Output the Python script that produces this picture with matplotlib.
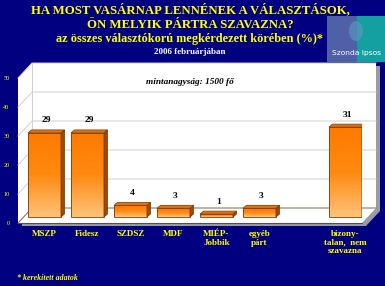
import numpy as np
import matplotlib
matplotlib.use('Agg')
import matplotlib.pyplot as plt
from matplotlib.patches import Polygon, Rectangle, Ellipse
from matplotlib.colors import LinearSegmentedColormap

# data
parties = ['MSZP', 'Fidesz', 'SZDSZ', 'MDF', 'MIÉP-\nJobbik', 'egyéb\npárt',
           'bizony-\ntalan,  nem\nszavazna']
values = [29, 29, 4, 3, 1, 3, 31]
y_ticks = [0, 10, 20, 30, 40, 50]

title1 = 'HA MOST VASÁRNAP LENNÉNEK A VÁLASZTÁSOK,'
title2 = 'ÖN MELYIK PÁRTRA SZAVAZNA?'
subtitle = 'az összes választókorú megkérdezett körében (%)*'
date_txt = '2006 februárjában'
sample_txt = 'mintanagyság: 1500 fő'
foot_txt = '* kerekített adatok'

navy = '#000080'
yellow = '#ffff00'
serif = ['Liberation Serif', 'DejaVu Serif']

W, H = 385, 286
fig = plt.figure(figsize=(W / 100, H / 100), dpi=100, facecolor=navy)

# front plane of the 3d box: x 18..362 px, y 223..78 px
ax = fig.add_axes([18 / W, (H - 223) / H, 344 / W, 145 / H])
ax.set_facecolor('none')
for s in ax.spines.values():
    s.set_visible(False)
x0, x1 = -0.616, 7.384
ax.set_xlim(x0, x1)
ax.set_ylim(0, 50)

# unit sizes in pixels
px_x = 344 / (x1 - x0)
px_y = 145 / 50.0
dxw, dyw = 14 / px_x, 15 / px_y      # depth of the box
bdx, bdy = 3.5 / px_x, 3 / px_y      # depth of a bar
base = 6 / px_y                      # bars stand inside the floor
bw = 33 / px_x

# shadow + white box
box = [(x0, 0), (x1, 0), (x1 + dxw, dyw), (x1 + dxw, 50 + dyw),
       (x0 + dxw, 50 + dyw), (x0, 50)]
shadow = [(x + 4 / px_x, y - 3 / px_y) for x, y in box]
ax.add_patch(Polygon(shadow, closed=True, fc='#9a9aa8', ec='none', clip_on=False, zorder=0))
ax.add_patch(Polygon(box, closed=True, fc='white', ec='none', clip_on=False, zorder=0.5))
ax.plot([x0, x1], [0, 0], color='#505050', lw=0.8, clip_on=False, zorder=0.6)

# grid on back and left wall
for t in y_ticks:
    c = '#7a6a40' if t == 0 else '#cfcfcf'
    ax.plot([x0, x0 + dxw, x1 + dxw], [t, t + dyw, t + dyw], color=c, lw=0.7,
            clip_on=False, zorder=0.7)
ax.plot([x0 + dxw, x0 + dxw], [dyw, 50 + dyw], color='#cfcfcf', lw=0.7, clip_on=False, zorder=0.7)

# bars
pos = np.array(list(range(len(values) - 1)) + [len(values)])
grad = np.linspace(0, 1, 100).reshape(-1, 1)
cmap = LinearSegmentedColormap.from_list('o', ['#ffc27a', '#ff8a10', '#ff7a00'])
bars = ax.bar(pos, values, width=bw, bottom=base, color='none', edgecolor='#7a3c00',
              lw=0.6, zorder=3)
for p, v, b in zip(pos, values, bars):
    l, r = p - bw / 2, p + bw / 2
    t = base + v
    im = ax.imshow(grad, cmap=cmap, extent=[l, r, base, t], aspect='auto',
                   origin='lower', zorder=2)
    im.set_clip_path(b)
    side = [(r, base), (r + bdx, base + bdy), (r + bdx, t + bdy), (r, t)]
    top = [(l, t), (l + bdx, t + bdy), (r + bdx, t + bdy), (r, t)]
    ax.add_patch(Polygon(side, closed=True, fc='#a04a00', ec='#6a3000', lw=0.5, zorder=3))
    ax.add_patch(Polygon(top, closed=True, fc='#e07010', ec='#7a3c00', lw=0.5, zorder=3))
    ax.annotate(str(v), (p + bdx / 2, t + bdy), xytext=(0, 4), textcoords='offset points',
                ha='center', va='bottom', fontsize=6.8, fontweight='bold',
                family=serif, color='black', zorder=4)

ax.set_yticks(y_ticks)
ax.set_yticklabels([str(t) for t in y_ticks], color=yellow, fontsize=4.5, family=serif)
ax.set_xticks(pos)
ax.set_xticklabels(parties, color=yellow, fontsize=6.5, fontweight='bold', family=serif,
                   linespacing=1.1)
ax.tick_params(length=0)
ax.tick_params(axis='y', pad=6)
ax.tick_params(axis='x', pad=5)

ax.text(0.5, 0.97, sample_txt, transform=ax.transAxes, ha='center', va='center',
        fontsize=6.7, fontstyle='italic', fontweight='bold', family=serif, color='black')

# titles
fig.text(190 / W, 1 - 10 / H, title1, ha='center', va='center', color=yellow,
         fontsize=9.2, fontweight='bold', family=serif)
fig.text(190 / W, 1 - 25 / H, title2, ha='center', va='center', color=yellow,
         fontsize=9.2, fontweight='bold', family=serif)
fig.text(190 / W, 1 - 39 / H, subtitle, ha='center', va='center', color=yellow,
         fontsize=8.8, fontweight='bold', family=serif)
fig.text(190 / W, 1 - 52 / H, date_txt, ha='center', va='center', color='white',
         fontsize=6.5, fontweight='bold', family=serif)
fig.text(17 / W, 1 - 278 / H, foot_txt, ha='left', va='center', color=yellow,
         fontsize=5.7, fontstyle='italic', fontweight='bold', family=serif)

# logo
lg = fig.add_axes([327 / W, 1 - 62 / H, 58 / W, 46 / H])
lg.set_xlim(0, 58)
lg.set_ylim(0, 46)
lg.axis('off')
lg.add_patch(Rectangle((0, 0), 30, 46, fc='#5060a8', ec='none'))
lg.add_patch(Rectangle((30, 0), 28, 46, fc='#14a0a0', ec='none'))
lg.add_patch(Ellipse((29, 31), 14, 20, fc='#5a94bc', ec='none', alpha=0.7))
lg.text(29, 9, 'Szonda Ipsos', ha='center', va='center', color='white', fontsize=5.4,
        family=['Liberation Sans Narrow', 'DejaVu Sans'])

fig.savefig('out.png', dpi=100, facecolor=navy)
